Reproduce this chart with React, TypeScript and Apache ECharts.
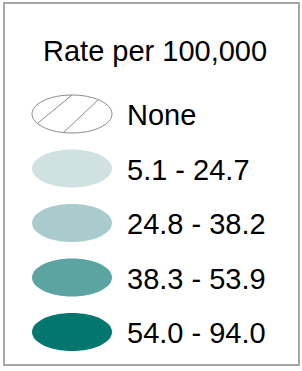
import React, { useEffect, useRef } from "react";
import * as echarts from "echarts";

const title = "Rate per 100,000";
const categories = ["None", "5.1 - 24.7", "24.8 - 38.2", "38.3 - 53.9", "54.0 - 94.0"];
const colors = ["#ffffff", "#d0e1e2", "#aacbcd", "#5ca4a2", "#02766f"];

export default function App() {
  const ref = useRef<HTMLDivElement>(null);
  useEffect(() => {
    document.body.style.margin = "0";
    const chart = echarts.init(ref.current!, undefined, { renderer: "svg" });
    const font = "29px 'Liberation Sans', Arial, sans-serif";
    const cx = 72;
    const rx = 40;
    const ry = 19;
    const y0 = 114;
    const step = 54.5;
    const elements: any[] = [
      {
        type: "rect",
        shape: { x: 4, y: 3, width: 295, height: 362 },
        style: { fill: "#ffffff", stroke: "#a6a6a6", lineWidth: 2 },
      },
      {
        type: "text",
        style: {
          text: title,
          x: 43,
          y: 51,
          font,
          fill: "#000000",
          align: "left",
          verticalAlign: "middle",
        },
      },
    ];
    categories.forEach((c, i) => {
      const cy = y0 + i * step;
      const isNone = i === 0;
      elements.push({
        type: "ellipse",
        shape: { cx, cy, rx, ry },
        style: isNone
          ? { fill: "#ffffff", stroke: "#8c8c8c", lineWidth: 1 }
          : { fill: colors[i], stroke: null },
      });
      if (isNone) {
        elements.push({
          type: "line",
          shape: { x1: cx - 34, y1: cy + 9, x2: cx, y2: cy - ry },
          style: { stroke: "#8c8c8c", lineWidth: 1 },
        });
        elements.push({
          type: "line",
          shape: { x1: cx - 9, y1: cy + ry, x2: cx + 26, y2: cy - 14 },
          style: { stroke: "#8c8c8c", lineWidth: 1 },
        });
      }
      elements.push({
        type: "text",
        style: {
          text: c,
          x: 127,
          y: cy + 1,
          font,
          fill: "#000000",
          align: "left",
          verticalAlign: "middle",
        },
      });
    });
    chart.setOption({
      animation: false,
      graphic: { elements },
    });
    return () => chart.dispose();
  }, []);
  return <div ref={ref} style={{ width: 302, height: 371 }} />;
}
